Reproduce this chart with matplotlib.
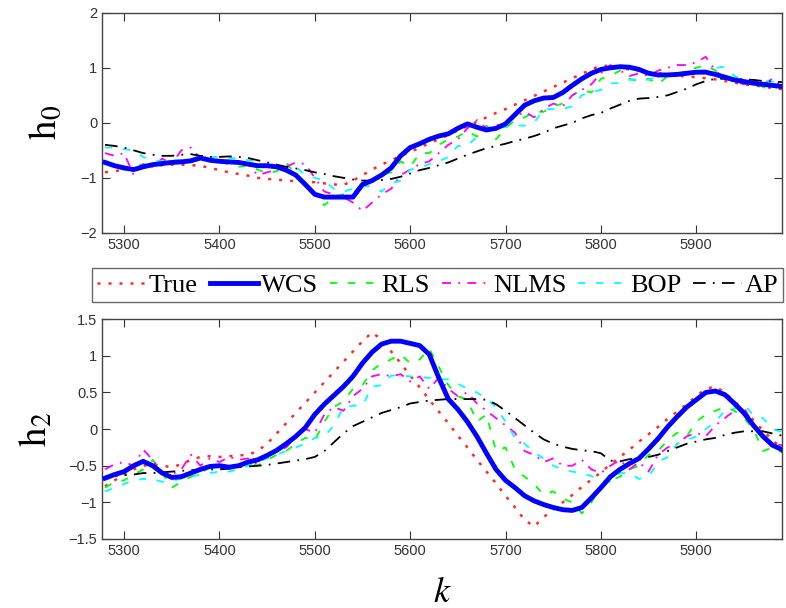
import numpy as np
import matplotlib
matplotlib.use('Agg')
import matplotlib.pyplot as plt

k = [5280, 5290, 5300, 5310, 5320, 5330, 5340, 5350, 5360, 5370, 5380, 5390,
     5400, 5410, 5420, 5430, 5440, 5450, 5460, 5470, 5480, 5490, 5500, 5510,
     5520, 5530, 5540, 5550, 5560, 5570, 5580, 5590, 5600, 5610, 5620, 5630,
     5640, 5650, 5660, 5670, 5680, 5690, 5700, 5710, 5720, 5730, 5740, 5750,
     5760, 5770, 5780, 5790, 5800, 5810, 5820, 5830, 5840, 5850, 5860, 5870,
     5880, 5890, 5900, 5910, 5920, 5930, 5940, 5950, 5960, 5970, 5980, 5990]

# h0 panel
h0_true = [-0.9, -0.88, -0.85, -0.82, -0.8, -0.78, -0.77, -0.76, -0.76, -0.77, -0.78, -0.82,
           -0.86, -0.9, -0.93, -0.96, -1.0, -1.02, -1.03, -1.05, -1.06, -1.07, -1.08, -1.1,
           -1.12, -1.13, -1.05, -0.95, -0.85, -0.76, -0.68, -0.6, -0.53, -0.45, -0.37, -0.3,
           -0.22, -0.14, -0.06, 0.02, 0.1, 0.18, 0.25, 0.33, 0.41, 0.49, 0.57, 0.65,
           0.73, 0.81, 0.89, 0.97, 1.04, 1.03, 1.0, 0.97, 0.95, 0.92, 0.9, 0.88,
           0.86, 0.84, 0.83, 0.81, 0.79, 0.76, 0.73, 0.7, 0.68, 0.66, 0.63, 0.61]
h0_wcs = [-0.72, -0.78, -0.82, -0.85, -0.8, -0.76, -0.74, -0.72, -0.71, -0.69, -0.64, -0.68,
          -0.7, -0.71, -0.72, -0.75, -0.78, -0.78, -0.8, -0.86, -0.95, -1.12, -1.3, -1.35,
          -1.35, -1.35, -1.35, -1.12, -1.05, -0.95, -0.82, -0.6, -0.45, -0.38, -0.3, -0.24,
          -0.2, -0.1, -0.02, -0.08, -0.13, -0.1, -0.02, 0.15, 0.32, 0.4, 0.45, 0.46,
          0.55, 0.68, 0.8, 0.9, 0.97, 1.0, 1.02, 1.01, 0.97, 0.9, 0.87, 0.87,
          0.88, 0.9, 0.92, 0.92, 0.88, 0.83, 0.78, 0.75, 0.72, 0.7, 0.68, 0.66]
h0_rls = [-0.72, -0.8, -0.85, -0.8, -0.75, -0.78, -0.72, -0.75, -0.7, -0.72, -0.55, -0.7,
          -0.72, -0.75, -0.8, -0.78, -0.85, -0.92, -0.88, -0.72, -0.95, -1.1, -1.3, -1.5,
          -1.35, -1.3, -1.28, -1.1, -1.05, -0.95, -0.9, -0.7, -0.8, -0.55, -0.55, -0.4,
          -0.3, -0.25, -0.15, -0.25, -0.05, -0.3, -0.1, 0.05, 0.1, 0.2, 0.2, 0.3,
          0.35, 0.5, 0.6, 0.55, 0.8, 0.85, 0.95, 0.8, 0.75, 0.8, 0.7, 0.85,
          0.85, 0.95, 1.0, 1.05, 0.95, 0.8, 0.75, 0.7, 0.75, 0.65, 0.6, 0.7]
h0_nlms = [-0.55, -0.6, -0.55, -0.95, -0.75, -0.8, -0.65, -0.75, -0.5, -0.45, -0.65, -0.7,
           -0.68, -0.75, -0.7, -0.75, -0.95, -0.9, -0.85, -0.8, -0.72, -0.75, -1.0, -1.25,
           -1.3, -1.35, -1.45, -1.6, -1.45, -1.3, -1.2, -0.95, -0.85, -0.75, -0.7, -0.55,
           -0.4, -0.3, -0.1, 0.05, -0.1, -0.05, 0.0, 0.1, 0.2, 0.1, 0.25, 0.35,
           0.3, 0.5, 0.6, 0.7, 0.9, 1.05, 0.95, 0.85, 0.9, 0.85, 0.95, 1.0,
           1.05, 1.05, 1.1, 1.2, 0.95, 0.8, 0.75, 0.7, 0.75, 0.7, 0.8, 0.65]
h0_bop = [-0.45, -0.45, -0.48, -0.5, -0.62, -0.68, -0.7, -0.68, -0.68, -0.66, -0.62, -0.62,
          -0.62, -0.64, -0.64, -0.68, -0.7, -0.78, -0.82, -0.85, -0.8, -0.95, -1.0, -1.05,
          -1.2, -1.25, -1.2, -1.15, -1.15, -1.25, -1.1, -1.05, -0.85, -0.82, -0.75, -0.7,
          -0.62, -0.42, -0.42, -0.25, -0.1, -0.08, -0.08, -0.05, -0.05, 0.0, 0.25, 0.25,
          0.25, 0.3, 0.5, 0.56, 0.6, 0.72, 0.72, 0.78, 0.8, 0.78, 0.85, 0.88,
          0.92, 0.92, 0.95, 0.95, 1.0, 1.02, 0.85, 0.78, 0.77, 0.77, 0.75, 0.75]
h0_ap = [-0.4, -0.42, -0.45, -0.5, -0.55, -0.58, -0.6, -0.6, -0.58, -0.57, -0.6, -0.62,
         -0.62, -0.61, -0.62, -0.64, -0.68, -0.72, -0.76, -0.8, -0.83, -0.86, -0.9, -0.93,
         -0.97, -1.0, -1.03, -1.05, -1.05, -1.04, -1.02, -0.98, -0.92, -0.86, -0.82, -0.77,
         -0.72, -0.65, -0.58, -0.52, -0.46, -0.42, -0.38, -0.33, -0.29, -0.24, -0.18, -0.1,
         -0.05, 0.0, 0.08, 0.14, 0.18, 0.26, 0.33, 0.4, 0.44, 0.45, 0.47, 0.5,
         0.56, 0.62, 0.7, 0.76, 0.8, 0.8, 0.8, 0.79, 0.78, 0.76, 0.75, 0.74]

# h2 panel
h2_true = [-0.78, -0.7, -0.62, -0.55, -0.5, -0.48, -0.5, -0.52, -0.48, -0.42, -0.38, -0.37,
           -0.38, -0.37, -0.36, -0.35, -0.3, -0.2, -0.06, 0.08, 0.22, 0.36, 0.5, 0.64,
           0.78, 0.92, 1.06, 1.2, 1.32, 1.22, 1.06, 0.9, 0.73, 0.57, 0.4, 0.24,
           0.08, -0.09, -0.25, -0.42, -0.58, -0.74, -0.91, -1.07, -1.24, -1.33, -1.2, -1.1,
           -1.0, -0.9, -0.79, -0.69, -0.59, -0.48, -0.38, -0.28, -0.17, -0.07, 0.03, 0.14,
           0.24, 0.34, 0.45, 0.55, 0.58, 0.5, 0.38, 0.25, 0.12, -0.02, -0.15, -0.27]
h2_wcs = [-0.67, -0.62, -0.58, -0.5, -0.44, -0.5, -0.6, -0.66, -0.65, -0.6, -0.55, -0.51,
          -0.5, -0.52, -0.5, -0.45, -0.42, -0.36, -0.29, -0.2, -0.1, 0.02, 0.2, 0.34,
          0.46, 0.58, 0.72, 0.9, 1.05, 1.16, 1.2, 1.2, 1.17, 1.14, 1.02, 0.7,
          0.41, 0.27, 0.1, -0.1, -0.33, -0.55, -0.7, -0.8, -0.91, -0.98, -1.03, -1.07,
          -1.1, -1.11, -1.07, -0.94, -0.8, -0.65, -0.55, -0.47, -0.4, -0.27, -0.13, 0.03,
          0.17, 0.3, 0.4, 0.5, 0.52, 0.47, 0.35, 0.22, 0.05, -0.1, -0.22, -0.28]
h2_rls = [-0.8, -0.72, -0.7, -0.62, -0.55, -0.42, -0.6, -0.8, -0.72, -0.65, -0.6, -0.52,
          -0.55, -0.5, -0.52, -0.45, -0.5, -0.42, -0.35, -0.3, -0.2, -0.12, -0.15, 0.1,
          0.3, 0.38, 0.55, 0.6, 0.8, 0.9, 0.95, 1.02, 0.9, 0.95, 1.1, 0.85,
          0.6, 0.45, 0.4, 0.1, 0.2, -0.3, -0.25, -0.55, -0.65, -0.75, -0.9, -0.85,
          -0.95, -1.0, -1.15, -1.0, -0.8, -0.7, -0.65, -0.55, -0.5, -0.35, -0.3, -0.15,
          -0.05, -0.1, 0.1, 0.2, 0.25, 0.3, 0.25, 0.15, 0.0, -0.3, -0.25, -0.32]
h2_nlms = [-0.55, -0.48, -0.45, -0.5, -0.28, -0.42, -0.6, -0.62, -0.55, -0.35, -0.5, -0.4,
           -0.45, -0.38, -0.42, -0.4, -0.48, -0.35, -0.3, -0.25, -0.1, 0.0, -0.05, 0.2,
           0.3, 0.25, 0.45, 0.55, 0.72, 0.75, 0.72, 0.75, 0.65, 0.72, 0.55, 0.7,
           0.55, 0.45, 0.5, 0.35, 0.25, 0.15, 0.05, -0.05, -0.3, -0.35, -0.45, -0.4,
           -0.5, -0.5, -0.42, -0.55, -0.6, -0.5, -0.42, -0.55, -0.45, -0.58, -0.35, -0.25,
           -0.2, -0.1, -0.05, -0.1, 0.05, 0.15, 0.25, 0.3, 0.05, -0.1, -0.2, -0.22]
h2_bop = [-0.85, -0.8, -0.75, -0.7, -0.68, -0.68, -0.72, -0.7, -0.68, -0.65, -0.62, -0.6,
          -0.58, -0.58, -0.55, -0.5, -0.45, -0.4, -0.35, -0.3, -0.25, -0.2, -0.12, -0.1,
          0.05, 0.3, 0.32, 0.32, 0.58, 0.6, 0.73, 0.73, 0.72, 0.71, 0.7, 0.68,
          0.68, 0.62, 0.55, 0.5, 0.42, 0.3, 0.1, -0.12, -0.2, -0.32, -0.4, -0.5,
          -0.55, -0.58, -0.6, -0.64, -0.7, -0.72, -0.6, -0.6, -0.68, -0.65, -0.45, -0.38,
          -0.2, -0.15, -0.1, 0.0, 0.1, 0.25, 0.28, 0.35, 0.18, 0.15, 0.0, -0.04]
h2_ap = [-0.65, -0.64, -0.63, -0.62, -0.6, -0.6, -0.59, -0.58, -0.57, -0.56, -0.56, -0.55,
         -0.55, -0.54, -0.52, -0.51, -0.5, -0.49, -0.47, -0.45, -0.43, -0.41, -0.38, -0.3,
         -0.18, -0.06, 0.04, 0.1, 0.16, 0.22, 0.26, 0.3, 0.35, 0.37, 0.39, 0.4,
         0.41, 0.41, 0.41, 0.41, 0.4, 0.34, 0.25, 0.15, 0.05, -0.05, -0.14, -0.2,
         -0.24, -0.27, -0.29, -0.3, -0.33, -0.43, -0.44, -0.41, -0.4, -0.38, -0.35, -0.3,
         -0.25, -0.2, -0.17, -0.14, -0.12, -0.08, -0.05, -0.03, -0.03, -0.03, -0.06, -0.09]

labels = ['True', 'WCS', 'RLS', 'NLMS', 'BOP', 'AP']
colors = ['#ff2a2a', '#0000ff', '#00ff00', '#ff00ff', '#00ffff', 'black']
styles = [(0, (1.2, 3.2)), '-', (0, (4, 6)), (0, (5, 4, 1, 4)), (0, (4, 6)), (0, (7, 4, 1, 4))]
widths = [1.8, 3.5, 1.3, 1.3, 1.3, 1.3]

plt.rcParams['mathtext.fontset'] = 'stix'
plt.rcParams['font.family'] = 'Liberation Sans'

fig = plt.figure(figsize=(7.86, 6.08), dpi=100)
ax1 = fig.add_axes([0.130, 0.617, 0.865, 0.362])
ax2 = fig.add_axes([0.130, 0.1135, 0.865, 0.3615])

top = [h0_true, h0_wcs, h0_rls, h0_nlms, h0_bop, h0_ap]
bot = [h2_true, h2_wcs, h2_rls, h2_nlms, h2_bop, h2_ap]
order = [0, 2, 3, 4, 5, 1]
for i in order:
    ax1.plot(k, top[i], linestyle=styles[i], color=colors[i], lw=widths[i], label=labels[i],
             zorder=3 if i == 1 else 2)
    ax2.plot(k, bot[i], linestyle=styles[i], color=colors[i], lw=widths[i],
             zorder=3 if i == 1 else 2)

for ax in (ax1, ax2):
    ax.set_xlim(5277, 5990)
    ax.set_xticks([5300, 5400, 5500, 5600, 5700, 5800, 5900])
    ax.tick_params(direction='in', top=True, right=True, length=6, labelsize=10.5,
                   colors='#333333', width=0.8)
    for s in ax.spines.values():
        s.set_color('#444444')
        s.set_linewidth(1.0)

ax1.set_ylim(-2, 2)
ax1.set_yticks([-2, -1, 0, 1, 2])
ax2.set_ylim(-1.5, 1.5)
ax2.set_yticks([-1.5, -1, -0.5, 0, 0.5, 1, 1.5])
ax2.set_yticklabels(['\u22121.5', '\u22121', '\u22120.5', '0', '0.5', '1', '1.5'])

ax1.set_ylabel(r'$\mathrm{h}_0$', fontsize=28, labelpad=12)
ax2.set_ylabel(r'$\mathrm{h}_2$', fontsize=28, labelpad=10)
ax2.set_xlabel(r'$k$', fontsize=26, labelpad=12)

handles, labs = ax1.get_legend_handles_labels()
hmap = dict(zip(labs, handles))
leg = fig.legend([hmap[l] for l in labels], labels, ncol=6,
                 bbox_to_anchor=(0.117, 0.503), loc='lower left',
                 borderaxespad=0, fancybox=False, edgecolor='#444444',
                 handlelength=1.85, handletextpad=0.1, columnspacing=0.45,
                 borderpad=0.2, prop={'family': 'Liberation Serif', 'size': 19})
leg.get_frame().set_linewidth(1.0)

fig.savefig('out.png', dpi=100)
